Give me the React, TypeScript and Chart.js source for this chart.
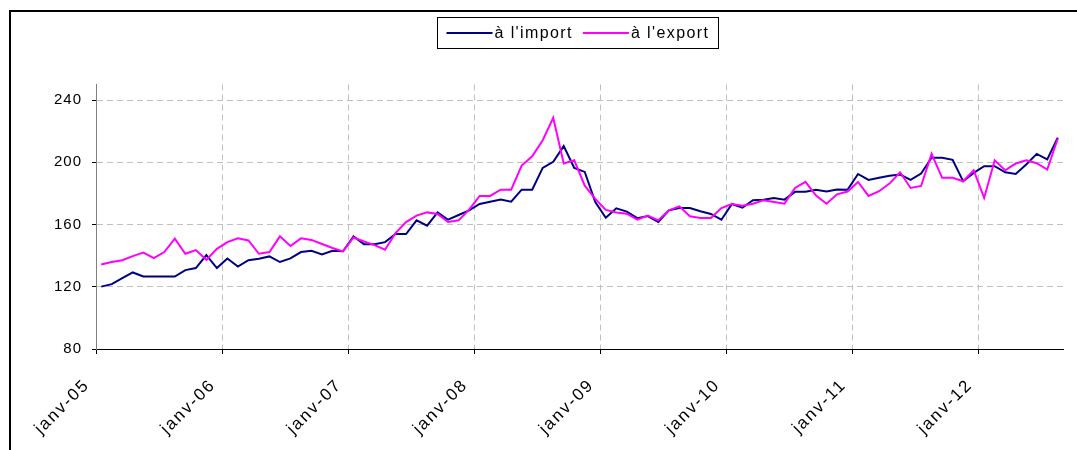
import React, { useEffect, useRef } from 'react';
import { Chart, registerables } from 'chart.js';

Chart.register(...registerables);

// ---- data ----
const seriesNames = ["à l'import", "à l'export"];
const seriesColors = ['#000080', '#ff00ff'];
const yearTickLabels = ['janv-05', 'janv-06', 'janv-07', 'janv-08', 'janv-09', 'janv-10', 'janv-11', 'janv-12'];
const monthsPerYear = 12;
const categoryCount = 92; // janv-05 .. août-12
const yTickValues = [80, 120, 160, 200, 240];
const yMin = 80;
const yMax = 250;

const importValues = [
  120.1, 121.7, 125.5, 129.2, 126.6, 126.6, 126.6, 126.6, 130.7, 132.0, 140.3, 132.0,
  138.2, 133.0, 137.1, 138.0, 139.5, 135.9, 138.2, 142.3, 143.1, 140.8, 143.1, 142.8,
  152.4, 147.4, 147.4, 148.7, 153.9, 153.9, 162.7, 159.3, 167.8, 163.1, 166.1, 169.1,
  173.2, 174.7, 176.0, 174.7, 182.4, 182.4, 196.4, 200.3, 210.4, 196.4, 193.8, 174.5,
  164.4, 170.4, 168.3, 164.1, 165.4, 161.6, 169.1, 170.6, 170.6, 168.5, 166.8, 163.1,
  173.2, 170.8, 175.6, 176.0, 177.1, 176.0, 181.0, 181.0, 182.3, 181.2, 182.5, 182.3,
  192.5, 188.7, 190.0, 191.3, 192.1, 188.7, 192.8, 202.9, 202.9, 201.6, 187.8, 193.2,
  197.5, 197.5, 193.6, 192.5, 198.6, 205.4, 201.8, 215.8,
];

const exportValues = [
  134.3, 135.9, 137.1, 139.7, 142.0, 138.4, 142.3, 150.9, 141.2, 143.6, 137.3, 144.4,
  148.7, 151.1, 149.8, 141.2, 142.3, 152.4, 146.2, 151.1, 150.1, 147.5, 144.9, 142.7,
  151.7, 149.1, 146.8, 143.8, 154.5, 161.6, 165.7, 167.8, 166.8, 161.6, 162.7, 169.6,
  178.4, 178.4, 182.4, 182.4, 197.9, 203.9, 214.2, 228.6, 199.2, 201.3, 185.0, 176.5,
  169.4, 167.8, 167.0, 163.1, 165.7, 162.7, 169.1, 171.7, 165.3, 164.2, 164.2, 170.6,
  173.2, 172.1, 173.4, 175.6, 174.5, 173.4, 183.5, 187.4, 178.6, 173.4, 179.4, 181.2,
  187.4, 178.4, 181.4, 186.3, 193.6, 183.5, 184.8, 205.4, 190.0, 190.0, 187.8, 194.9,
  177.1, 201.3, 194.9, 199.2, 201.3, 199.4, 195.3, 215.1,
];

const seriesValues = [importValues, exportValues];

const FONT = '"Liberation Sans", Arial, sans-serif';
const CANVAS_W = 1132;
const CANVAS_H = 460;

// legend drawn inside a framed box, like the original
const boxedLegend = {
  id: 'boxedLegend',
  afterDraw(chart: any) {
    const ctx = chart.ctx as CanvasRenderingContext2D;
    ctx.save();
    ctx.font = '16px ' + FONT;
    (ctx as any).letterSpacing = '1.4px';
    const sample = 46;
    const gapText = 2;
    const gapItem = 10;
    const padX = 9;
    const boxH = 31;
    const labels = seriesNames;
    const widths = labels.map((l) => ctx.measureText(l).width);
    const content = widths.reduce((a, w) => a + sample + gapText + w, 0) + gapItem * (labels.length - 1);
    const boxW = Math.round(content + 2 * padX);
    const x0 = Math.round(chart.width / 2 - boxW / 2) + 0.5;
    const y0 = 5.5;
    ctx.strokeStyle = '#000';
    ctx.lineWidth = 1;
    ctx.strokeRect(x0, y0, boxW, boxH);
    let x = x0 + padX;
    const cy = Math.round(y0 + boxH / 2);
    labels.forEach((label, i) => {
      ctx.strokeStyle = seriesColors[i];
      ctx.lineWidth = 2;
      ctx.beginPath();
      ctx.moveTo(x, cy);
      ctx.lineTo(x + sample, cy);
      ctx.stroke();
      x += sample + gapText;
      ctx.fillStyle = '#000';
      ctx.textAlign = 'left';
      ctx.textBaseline = 'middle';
      ctx.fillText(label, x, cy + 1);
      x += widths[i] + gapItem;
    });
    ctx.restore();
  },
};

// wider letter spacing for axis labels (Excel-like rendering)
const spacedLabels = {
  id: 'spacedLabels',
  afterUpdate(chart: any) {
    const spacing: Record<string, string> = { x: '2px', y: '1px' };
    Object.keys(spacing).forEach((id) => {
      const scale = chart.scales[id];
      if (!scale || scale.__spaced) return;
      const orig = scale.drawLabels;
      scale.drawLabels = function (area: any) {
        const ctx = this.ctx as CanvasRenderingContext2D;
        ctx.save();
        (ctx as any).letterSpacing = spacing[id];
        orig.call(this, area);
        ctx.restore();
      };
      scale.__spaced = true;
    });
  },
};

export default function App() {
  const ref = useRef<HTMLCanvasElement>(null);

  useEffect(() => {
    const prevOverflow = document.body.style.overflow;
    document.body.style.overflow = 'hidden';
    Chart.defaults.font.family = FONT;
    Chart.defaults.color = '#000';

    const datasets = seriesNames.map((name, s) => ({
      label: name,
      data: seriesValues[s].map((v, i) => ({ x: i + 0.5, y: v })),
      borderColor: seriesColors[s],
      backgroundColor: seriesColors[s],
      borderWidth: 2,
      pointRadius: 0,
      tension: 0,
      fill: false,
      order: seriesNames.length - s,
    }));

    const chart = new Chart(ref.current as HTMLCanvasElement, {
      type: 'line',
      data: { datasets },
      options: {
        animation: false,
        responsive: false,
        events: [],
        layout: { padding: { top: 72.5, right: 80, left: 0, bottom: 0 } },
        plugins: { legend: { display: false }, tooltip: { enabled: false } },
        scales: {
          x: {
            type: 'linear',
            min: 0,
            max: categoryCount,
            afterBuildTicks: (scale: any) => {
              scale.ticks = yearTickLabels.map((_, k) => ({ value: k * monthsPerYear }));
            },
            afterFit: (scale: any) => {
              scale.height = CANVAS_H - 337;
            },
            ticks: {
              autoSkip: false,
              minRotation: 45,
              maxRotation: 45,
              padding: 21,
              labelOffset: -9,
              color: '#000',
              font: { size: 17, family: FONT },
              callback: (v: any) => yearTickLabels[Math.round(Number(v) / monthsPerYear)] ?? '',
            },
            grid: { color: '#c0c0c0', lineWidth: 1, tickColor: '#000', tickLength: 5 },
            border: { color: '#000', width: 1, dash: [6, 4] },
          },
          y: {
            type: 'linear',
            min: yMin,
            max: yMax,
            afterBuildTicks: (scale: any) => {
              scale.ticks = yTickValues.map((v) => ({ value: v }));
            },
            afterFit: (scale: any) => {
              scale.width = 85;
            },
            ticks: { padding: 10, color: '#000', font: { size: 15, family: FONT } },
            grid: { color: '#c0c0c0', lineWidth: 1, tickColor: '#000', tickLength: 4 },
            border: { color: '#808080', width: 1, dash: [6, 4] },
          },
        },
      },
      plugins: [spacedLabels, boxedLegend],
    } as any);
    chart.draw();

    return () => {
      chart.destroy();
      document.body.style.overflow = prevOverflow;
    };
  }, []);

  return (
    <div
      style={{
        position: 'absolute',
        left: 9,
        top: 10,
        width: CANVAS_W,
        height: CANVAS_H,
        border: '2px solid #000',
        background: '#fff',
      }}
    >
      <canvas ref={ref} width={CANVAS_W} height={CANVAS_H} style={{ display: 'block', width: CANVAS_W, height: CANVAS_H }} />
    </div>
  );
}
